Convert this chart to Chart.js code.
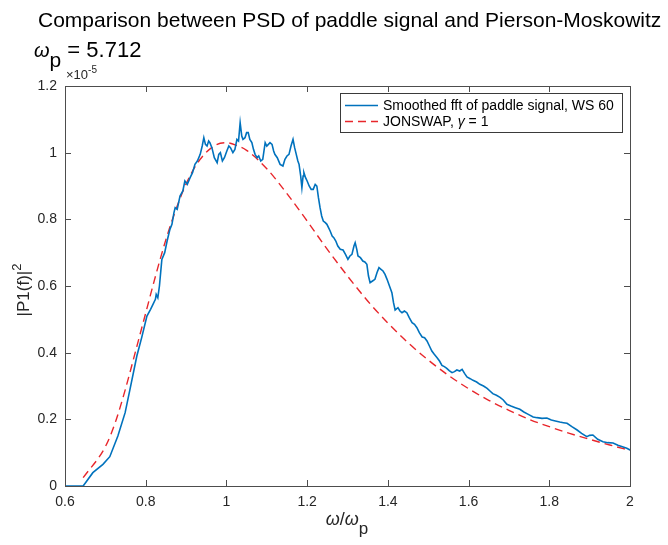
<!DOCTYPE html>
<html>
<head>
<meta charset="utf-8">
<script src="https://cdn.jsdelivr.net/npm/chart.js@4"></script>
<style>html,body{margin:0;padding:0;background:#fff}</style>
</head>
<body>
<canvas id="psd" width="668" height="545" style="width:668px;height:545px"></canvas>
<script>
// values (y in units of 1e-5)
const blueX = [0.600,0.645,0.669,0.694,0.711,0.731,0.749,0.761,0.778,0.790,0.803,0.812,0.818,0.824,0.826,0.830,0.834,0.840,0.847,0.853,0.860,0.865,0.870,0.873,0.878,0.885,0.892,0.897,0.903,0.910,0.916,0.922,0.928,0.935,0.940,0.944,0.948,0.952,0.956,0.959,0.964,0.970,0.977,0.981,0.985,0.990,0.995,1.001,1.006,1.010,1.016,1.021,1.026,1.030,1.034,1.038,1.041,1.046,1.050,1.054,1.058,1.063,1.067,1.071,1.076,1.080,1.085,1.090,1.096,1.100,1.104,1.108,1.113,1.117,1.120,1.126,1.133,1.140,1.145,1.150,1.155,1.160,1.165,1.169,1.172,1.177,1.180,1.184,1.187,1.190,1.192,1.196,1.200,1.205,1.210,1.215,1.220,1.224,1.228,1.232,1.236,1.240,1.245,1.249,1.253,1.257,1.262,1.266,1.271,1.276,1.282,1.289,1.295,1.301,1.306,1.311,1.316,1.319,1.323,1.326,1.332,1.338,1.343,1.348,1.352,1.356,1.362,1.368,1.373,1.378,1.383,1.388,1.393,1.398,1.404,1.410,1.414,1.418,1.425,1.430,1.435,1.441,1.447,1.453,1.460,1.466,1.472,1.478,1.485,1.491,1.497,1.503,1.509,1.515,1.522,1.528,1.534,1.540,1.546,1.552,1.559,1.565,1.571,1.578,1.584,1.590,1.596,1.604,1.611,1.620,1.628,1.637,1.646,1.653,1.660,1.669,1.678,1.686,1.695,1.705,1.716,1.727,1.737,1.748,1.760,1.770,1.782,1.794,1.805,1.815,1.826,1.835,1.844,1.856,1.869,1.880,1.893,1.900,1.908,1.920,1.933,1.945,1.958,1.970,1.983,1.992,2.000];
const blueY = [0,0,0.040,0.065,0.088,0.150,0.220,0.290,0.390,0.445,0.510,0.530,0.545,0.560,0.575,0.565,0.600,0.680,0.700,0.735,0.770,0.785,0.820,0.835,0.830,0.870,0.885,0.915,0.905,0.925,0.940,0.965,0.975,0.995,1.020,1.045,1.025,1.020,1.035,1.030,1.015,0.985,0.970,0.995,1.000,0.975,0.985,1.005,1.020,1.015,1.000,1.010,1.040,1.035,1.090,1.050,1.040,1.045,1.060,1.060,1.040,1.030,1.010,0.995,0.985,0.990,0.975,0.980,1.030,1.020,1.025,1.030,1.025,1.005,0.995,0.985,0.965,0.960,0.980,0.990,0.995,1.020,1.040,1.015,1.000,0.975,0.965,0.930,0.895,0.930,0.940,0.925,0.915,0.900,0.890,0.890,0.905,0.900,0.865,0.835,0.810,0.795,0.790,0.785,0.775,0.765,0.750,0.745,0.735,0.720,0.710,0.708,0.695,0.680,0.690,0.695,0.720,0.730,0.710,0.690,0.685,0.675,0.672,0.665,0.630,0.610,0.615,0.620,0.640,0.655,0.650,0.645,0.635,0.620,0.600,0.580,0.550,0.528,0.535,0.525,0.520,0.525,0.520,0.505,0.490,0.485,0.475,0.460,0.447,0.445,0.435,0.420,0.405,0.395,0.385,0.375,0.362,0.358,0.353,0.346,0.340,0.343,0.348,0.345,0.350,0.338,0.327,0.322,0.317,0.312,0.305,0.300,0.293,0.285,0.277,0.272,0.266,0.258,0.245,0.240,0.235,0.230,0.222,0.215,0.207,0.205,0.203,0.204,0.198,0.195,0.192,0.190,0.188,0.178,0.168,0.158,0.148,0.152,0.153,0.140,0.133,0.130,0.129,0.122,0.117,0.113,0.108];

const redX = [0.645,0.70,0.725,0.75,0.775,0.80,0.825,0.85,0.875,0.90,0.925,0.95,0.975,1.00,1.025,1.05,1.10,1.15,1.20,1.25,1.30,1.35,1.40,1.45,1.50,1.55,1.60,1.65,1.70,1.75,1.80,1.85,1.90,1.95,2.00];
const redY = [0.025,0.118,0.192,0.292,0.405,0.519,0.633,0.739,0.830,0.906,0.963,1.001,1.024,1.030,1.022,1.007,0.952,0.877,0.795,0.710,0.630,0.555,0.489,0.430,0.378,0.332,0.292,0.257,0.227,0.200,0.178,0.158,0.140,0.123,0.107];

const xTickValues = [0.6,0.8,1,1.2,1.4,1.6,1.8,2];
const yTickValues = [0,0.2,0.4,0.6,0.8,1,1.2];

const seriesLabels = ['Smoothed fft of paddle signal, WS 60','JONSWAP, '];

const FONT = '"Liberation Sans", Arial, Helvetica, sans-serif';
const axisColor = '#4d4d4d';
const textColor = '#262626';
const blueColor = '#0072BD';
const redColor = '#e8262b';

function toPoints(xs, ys){ return xs.map((x,i)=>({x:x, y:ys[i]})); }

// draw a list of text runs (for italic symbols, sub/superscripts)
function drawRuns(ctx, runs, x, y, align){
  let total = 0;
  runs.forEach(r=>{
    ctx.font = (r.italic?'italic ':'') + r.size + 'px ' + FONT;
    r.w = ctx.measureText(r.t).width;
    total += r.w;
  });
  let cx = align==='center' ? x - total/2 : x;
  ctx.textBaseline = 'alphabetic';
  ctx.textAlign = 'left';
  runs.forEach(r=>{
    ctx.font = (r.italic?'italic ':'') + r.size + 'px ' + FONT;
    ctx.fillText(r.t, cx, y + (r.dy||0));
    cx += r.w;
  });
}

const decor = {
  id: 'decor',
  afterDraw(chart){
    const {ctx, chartArea:a, scales} = chart;
    const sx = scales.x, sy = scales.y;
    ctx.save();
    // box
    ctx.strokeStyle = axisColor;
    ctx.lineWidth = 1;
    ctx.strokeRect(Math.round(a.left)+0.5, Math.round(a.top)+0.5, Math.round(a.right-a.left), Math.round(a.bottom-a.top));
    // inward ticks on all four sides
    ctx.beginPath();
    sx.ticks.forEach(t=>{
      const px = Math.round(sx.getPixelForValue(t.value))+0.5;
      ctx.moveTo(px, a.bottom); ctx.lineTo(px, a.bottom-6);
      ctx.moveTo(px, a.top); ctx.lineTo(px, a.top+6);
    });
    sy.ticks.forEach(t=>{
      const py = Math.round(sy.getPixelForValue(t.value))+0.5;
      ctx.moveTo(a.left, py); ctx.lineTo(a.left+6, py);
      ctx.moveTo(a.right, py); ctx.lineTo(a.right-6, py);
    });
    ctx.stroke();

    // legend
    const lx = 340, ly = 93, lw = 282, lh = 39;
    ctx.fillStyle = '#fff';
    ctx.fillRect(lx, ly, lw, lh);
    ctx.strokeStyle = '#3a3a3a';
    ctx.strokeRect(lx+0.5, ly+0.5, lw, lh);
    const ds = chart.data.datasets;
    [105, 121].forEach((rowY, i)=>{
      ctx.strokeStyle = ds[i].borderColor;
      ctx.lineWidth = 1.5;
      ctx.setLineDash(ds[i].borderDash || []);
      ctx.beginPath();
      ctx.moveTo(345, rowY+0.5); ctx.lineTo(378, rowY+0.5);
      ctx.stroke();
      ctx.setLineDash([]);
    });
    ctx.fillStyle = '#000';
    drawRuns(ctx, [{t:ds[0].label, size:14}], 383, 110, 'left');
    drawRuns(ctx, [{t:ds[1].label, size:14},{t:'\u03B3', italic:true, size:14},{t:' = 1', size:14}], 383, 126, 'left');

    // titles
    ctx.fillStyle = '#000';
    drawRuns(ctx, [{t:'Comparison between PSD of paddle signal and Pierson-Moskowitz', size:21}], 38, 27, 'left');
    drawRuns(ctx, [{t:'\u03C9', italic:true, size:20},{t:'p', size:21, dy:10},{t:' = 5.712', size:22}], 34, 57, 'left');

    // exponent label
    ctx.fillStyle = textColor;
    drawRuns(ctx, [{t:'\u00D710', size:13},{t:'-5', size:10, dy:-6}], 66, 79, 'left');

    // x axis title
    drawRuns(ctx, [{t:'\u03C9', italic:true, size:18},{t:'/', size:18},{t:'\u03C9', italic:true, size:18},{t:'p', size:17, dy:9}], 347, 525, 'center');

    // y axis title
    ctx.translate(29, 290);
    ctx.rotate(-Math.PI/2);
    drawRuns(ctx, [{t:'|P1(f)|', size:17},{t:'2', size:13, dy:-8}], 0, 0, 'center');
    ctx.restore();
  }
};

new Chart(document.getElementById('psd'), {
  type: 'line',
  data: {
    datasets: [
      { label: seriesLabels[0], data: toPoints(blueX, blueY), borderColor: blueColor, borderWidth: 1.6, pointRadius: 0, fill: false, tension: 0 },
      { label: seriesLabels[1], data: toPoints(redX, redY), borderColor: redColor, borderWidth: 1.4, borderDash: [8,5], pointRadius: 0, fill: false, cubicInterpolationMode: 'monotone' }
    ]
  },
  options: {
    responsive: false,
    animation: false,
    events: [],
    layout: { padding: { left: 0, top: 86, right: 38, bottom: 0 } },
    plugins: { legend: { display: false }, title: { display: false }, tooltip: { enabled: false } },
    scales: {
      x: {
        type: 'linear', min: 0.6, max: 2,
        afterBuildTicks: s => { s.ticks = xTickValues.map(v=>({value:v})); },
        afterFit: s => { s.height = 59; },
        grid: { display: false, drawTicks: false },
        border: { display: false },
        ticks: { color: textColor, padding: 8, maxRotation: 0, font: { family: FONT, size: 14 }, callback: v => String(v) }
      },
      y: {
        type: 'linear', min: 0, max: 1.2,
        afterBuildTicks: s => { s.ticks = yTickValues.map(v=>({value:v})); },
        afterFit: s => { s.width = 65; },
        grid: { display: false, drawTicks: false },
        border: { display: false },
        ticks: { color: textColor, padding: 8, font: { family: FONT, size: 14 }, callback: v => String(v) }
      }
    }
  },
  plugins: [decor]
});
</script>
</body>
</html>
